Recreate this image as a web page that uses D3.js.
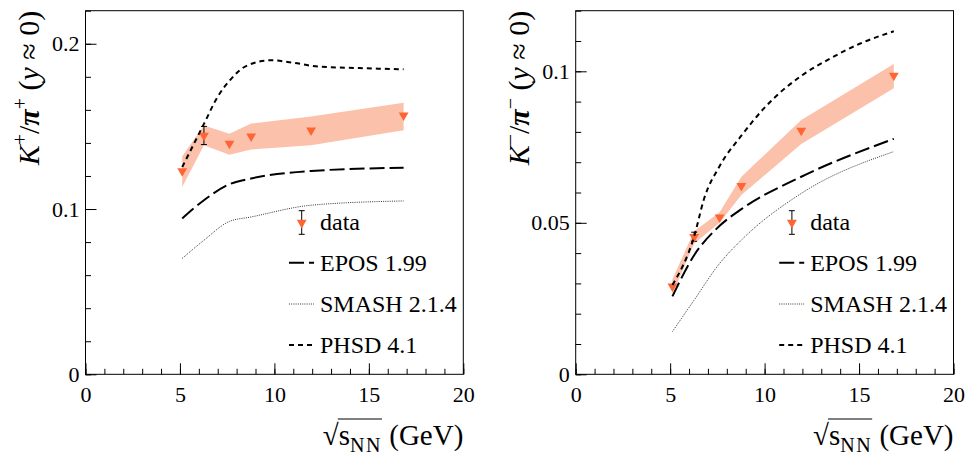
<!DOCTYPE html>
<html>
<head>
<meta charset="utf-8">
<script src="https://cdn.jsdelivr.net/npm/d3@7"></script>
<style>
  html, body { margin: 0; padding: 0; background: #fff; }
  svg { display: block; }
</style>
</head>
<body>
<svg id="chart" width="980" height="455" font-family="Liberation Serif"></svg>
<script>
// ---------------- data ----------------
const energies = [5.12, 6.27, 7.62, 8.77, 11.94, 16.84];

// K+/pi+
const kPlusRatio   = [0.123, 0.1445, 0.1396, 0.144, 0.1476, 0.1567];
const kPlusStat    = [0.0012, 0.0055, 0.0012, 0.0012, 0.0012, 0.0012];
const kPlusSysLow  = [0.1134, 0.1386, 0.1329, 0.136, 0.1386, 0.1476];
const kPlusSysHigh = [0.1320, 0.1506, 0.1456, 0.1517, 0.1560, 0.1643];

const eposPlusY  = [0.0943, 0.1053, 0.1150, 0.1185, 0.1230, 0.1250];
const smashPlusY = [0.0701, 0.0811, 0.0925, 0.0952, 0.1023, 0.1049];
const phsdPlusX  = [5.12, 6.27, 7.0, 7.65, 8.5, 9.8, 11.0, 12.3, 14.5, 16.84];
const phsdPlusY  = [0.1254, 0.1515, 0.168, 0.178, 0.1865, 0.190, 0.1885, 0.1862, 0.1853, 0.1845];

// K-/pi-
const kMinusRatio   = [0.0290, 0.0454, 0.0518, 0.0622, 0.0804, 0.0986];
const kMinusStat    = [0.0006, 0.0015, 0.0006, 0.0006, 0.0006, 0.0008];
const kMinusSysLow  = [0.0264, 0.0432, 0.0500, 0.0592, 0.0760, 0.0944];
const kMinusSysHigh = [0.0314, 0.0472, 0.0535, 0.0652, 0.0839, 0.1024];

const eposMinusY  = [0.0257, 0.0393, 0.0490, 0.0545, 0.0652, 0.0777];
const smashMinusY = [0.0141, 0.0245, 0.0366, 0.0443, 0.0597, 0.0735];
const phsdMinusX  = [5.12, 6.27, 6.8, 7.6, 8.8, 10.0, 11.94, 13.5, 15.0, 16.84];
const phsdMinusY  = [0.0295, 0.0455, 0.058, 0.0685, 0.079, 0.088, 0.0985, 0.1043, 0.109, 0.1132];

const xTicks = [0, 5, 10, 15, 20];
const yTicksPlus = [0, 0.1, 0.2];
const yTicksMinus = [0, 0.05, 0.1];
const legendLabels = ["data", "EPOS 1.99", "SMASH 2.1.4", "PHSD 4.1"];

// ---------------- drawing ----------------
const FONT = "Liberation Serif";
const svg = d3.select("#chart");
const MARK = "#ff6434";
const BAND = "#fcc1ab";

function addText(sel) {
  return sel.append("text").attr("font-family", FONT).attr("fill", "#000");
}

function panel(cfg) {
  const x0 = cfg.left, x1 = cfg.left + 377.8, yTop = 10.7, yBot = 374.3;
  const g = svg.append("g");
  const x = d3.scaleLinear().domain([0, 20]).range([x0, x1]);
  const y = d3.scaleLinear().domain([0, cfg.yMax]).range([yBot, yTop]);

  // band
  const bandData = energies.map((e, i) => ({ x: e, lo: cfg.sysLow[i], hi: cfg.sysHigh[i] }));
  g.append("path").datum(bandData)
    .attr("fill", BAND)
    .attr("d", d3.area().x(d => x(d.x)).y0(d => y(d.lo)).y1(d => y(d.hi)));

  // stat errors (only when longer than the marker), then markers on top
  const tri = d3.symbol().type(d3.symbolTriangle).size(42);
  energies.forEach((e, i) => {
    const cx = x(e);
    const y1 = y(cfg.vals[i] + cfg.stat[i]), y2 = y(cfg.vals[i] - cfg.stat[i]);
    if (Math.abs(y2 - y1) / 2 < 4) return;
    g.append("line").attr("x1", cx).attr("x2", cx).attr("y1", y1).attr("y2", y2)
      .attr("stroke", "#000").attr("stroke-width", 1);
    [y1, y2].forEach(yy => g.append("line").attr("x1", cx - 3).attr("x2", cx + 3)
      .attr("y1", yy).attr("y2", yy).attr("stroke", "#000").attr("stroke-width", 1));
  });
  energies.forEach((e, i) => {
    g.append("path").attr("d", tri()).attr("fill", MARK)
      .attr("transform", `translate(${x(e)},${y(cfg.vals[i])}) rotate(180)`);
  });

  // model curves
  const line = d3.line().x(d => x(d[0])).y(d => y(d[1])).curve(d3.curveMonotoneX);
  g.append("path").datum(energies.map((e, i) => [e, cfg.smash[i]]))
    .attr("fill", "none").attr("stroke", "#333").attr("stroke-width", 1)
    .attr("stroke-dasharray", "1,1.2").attr("d", line);
  g.append("path").datum(energies.map((e, i) => [e, cfg.epos[i]]))
    .attr("fill", "none").attr("stroke", "#000").attr("stroke-width", 2)
    .attr("stroke-dasharray", "15,5").attr("d", line);
  g.append("path").datum(cfg.phsdX.map((e, i) => [e, cfg.phsdY[i]]))
    .attr("fill", "none").attr("stroke", "#000").attr("stroke-width", 2)
    .attr("stroke-dasharray", "5,4").attr("d", line);

  // axes (ticks inward)
  const styleTicks = a => a.selectAll("text").attr("font-size", 22)
    .attr("font-family", FONT).attr("fill", "#000");
  const minorY = d3.range(0, cfg.yMax + 1e-9, cfg.minorStep);
  g.append("g").attr("transform", `translate(${x0},0)`)
    .call(d3.axisLeft(y).tickValues(minorY).tickSize(-5.5).tickFormat(""))
    .call(a => a.select(".domain").remove());
  g.append("g").attr("transform", `translate(${x0},0)`)
    .call(d3.axisLeft(y).tickValues(cfg.yTicks).tickSize(-11).tickPadding(6)
      .tickFormat(d => d === 0 ? "0" : String(d)))
    .call(a => a.select(".domain").remove())
    .call(styleTicks);
  g.append("g").attr("transform", `translate(0,${yBot})`)
    .call(d3.axisBottom(x).tickValues(d3.range(0, 21, 1)).tickSize(-5.5).tickFormat(""))
    .call(a => a.select(".domain").remove());
  g.append("g").attr("transform", `translate(0,${yBot})`)
    .call(d3.axisBottom(x).tickValues(xTicks).tickSize(-11).tickPadding(12))
    .call(a => a.select(".domain").remove())
    .call(styleTicks);
  g.selectAll(".tick line").attr("stroke", "#000");

  // frame
  g.append("rect").attr("x", x0).attr("y", yTop).attr("width", x1 - x0).attr("height", yBot - yTop)
    .attr("fill", "none").attr("stroke", "#000").attr("stroke-width", 1);

  // y title
  const t = addText(g).attr("transform", `translate(${x0 - 47},${yTop}) rotate(-90)`)
    .attr("text-anchor", "end").attr("font-size", 30);
  t.append("tspan").attr("font-style", "italic").text("K");
  t.append("tspan").attr("dy", -12).attr("font-size", 20).text(cfg.sign);
  t.append("tspan").attr("dy", 12).text("/");
  t.append("tspan").attr("font-style", "italic").attr("font-weight", "bold").text("π");
  t.append("tspan").attr("dy", -12).attr("font-size", 20).text(cfg.sign);
  t.append("tspan").attr("dy", 12).text(" (");
  t.append("tspan").attr("font-style", "italic").text("y");
  t.append("tspan").text(" ≈ 0)");

  // x title
  const xt = addText(g).attr("x", x1).attr("y", 445).attr("text-anchor", "end")
    .attr("font-size", 29);
  xt.append("tspan").text("√");
  xt.append("tspan").text("s");
  xt.append("tspan").attr("dy", 7).attr("font-size", 20).attr("letter-spacing", 1.5).text("NN");
  xt.append("tspan").attr("dy", -7).text(" (GeV)");
  try {
    const node = xt.node();
    const a = node.getExtentOfChar(0);
    const b = node.getExtentOfChar(3);
    g.append("line").attr("x1", a.x + a.width - 1).attr("x2", b.x + b.width)
      .attr("y1", 419).attr("y2", 419).attr("stroke", "#000").attr("stroke-width", 1);
  } catch (e) {}

  // legend
  const lx = x0 + 216.2;
  const rows = [222.7, 262.7, 304, 345];
  const base = [230, 271, 312, 353];
  g.append("line").attr("x1", lx).attr("x2", lx).attr("y1", 210.7).attr("y2", 234.3).attr("stroke", "#000");
  [210.7, 234.3].forEach(yy => g.append("line").attr("x1", lx - 3).attr("x2", lx + 3)
    .attr("y1", yy).attr("y2", yy).attr("stroke", "#000"));
  g.append("path").attr("d", tri()).attr("fill", MARK)
    .attr("transform", `translate(${lx},${rows[0]}) rotate(180)`);
  const styles = [
    { w: 2, c: "#000", dash: "15,5" },
    { w: 1, c: "#333", dash: "1,1.2" },
    { w: 2, c: "#000", dash: "5,4" }
  ];
  styles.forEach((s, i) => {
    g.append("line").attr("x1", x0 + 203.5).attr("x2", x0 + 228.5)
      .attr("y1", rows[i + 1]).attr("y2", rows[i + 1])
      .attr("stroke", s.c).attr("stroke-width", s.w).attr("stroke-dasharray", s.dash);
  });
  legendLabels.forEach((lab, i) => {
    addText(g).attr("x", x0 + 234.5).attr("y", base[i]).attr("font-size", 24).text(lab);
  });
}

panel({
  left: 85.5, yMax: 0.22, minorStep: 0.02, yTicks: yTicksPlus, sign: "+",
  vals: kPlusRatio, stat: kPlusStat, sysLow: kPlusSysLow, sysHigh: kPlusSysHigh,
  epos: eposPlusY, smash: smashPlusY, phsdX: phsdPlusX, phsdY: phsdPlusY
});
panel({
  left: 575.7, yMax: 0.12, minorStep: 0.01, yTicks: yTicksMinus, sign: "−",
  vals: kMinusRatio, stat: kMinusStat, sysLow: kMinusSysLow, sysHigh: kMinusSysHigh,
  epos: eposMinusY, smash: smashMinusY, phsdX: phsdMinusX, phsdY: phsdMinusY
});
</script>
</body>
</html>
